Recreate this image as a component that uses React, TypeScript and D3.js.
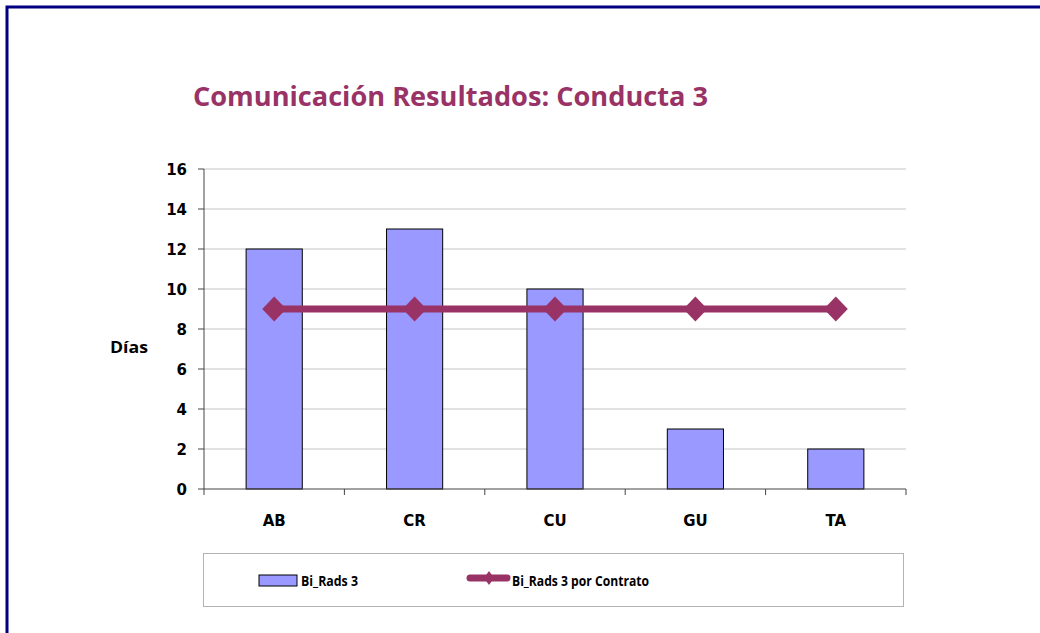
import { scaleBand, scaleLinear } from 'd3';

const categories = ['AB', 'CR', 'CU', 'GU', 'TA'];
const biRads = [12, 13, 10, 3, 2];
const contrato = [9, 9, 9, 9, 9];
const yTicks = [0, 2, 4, 6, 8, 10, 12, 14, 16];
const seriesNames = ['Bi_Rads 3', 'Bi_Rads 3 por Contrato'];

const LINE_COLOR = '#993366';
const BAR_COLOR = '#9999FF';

function App(): JSX.Element {
  const left = 204;
  const right = 906;
  const top = 169;
  const bottom = 489;

  const x = scaleBand<string>().domain(categories).range([left, right]).padding(0);
  const y = scaleLinear().domain([0, 16]).range([bottom, top]);
  const barW = x.bandwidth() * 0.4;
  const cx = (c: string) => (x(c) ?? 0) + x.bandwidth() / 2;

  const diamond = (px: number, py: number, r: number, ry = r) =>
    `M${px - r},${py} L${px},${py - ry} L${px + r},${py} L${px},${py + ry} Z`;

  const boundaries = [...categories.map((c) => x(c) ?? 0), right];

  return (
    <svg
      width={1040}
      height={633}
      style={{ position: 'absolute', left: 0, top: 0, background: '#fff' }}
    >
      {/* outer frame */}
      <rect x={7} y={7} width={1100} height={700} fill="#fff" stroke="#000080" strokeWidth={3} />

      <text
        x={193}
        y={106}
        fontFamily="'Open Sans', sans-serif"
        fontWeight="bold"
        fontSize={26}
        fill={LINE_COLOR}
        textLength={515}
        lengthAdjust="spacingAndGlyphs"
      >
        Comunicación Resultados: Conducta 3
      </text>

      {/* gridlines */}
      {yTicks.filter((t) => t > 0).map((t) => (
        <line key={`g${t}`} x1={left} x2={right} y1={y(t)} y2={y(t)} stroke="#d9d9d9" strokeWidth={1.5} />
      ))}

      {/* bars */}
      {categories.map((c, i) => (
        <rect
          key={`b${c}`}
          x={cx(c) - barW / 2}
          y={y(biRads[i])}
          width={barW}
          height={y(0) - y(biRads[i])}
          fill={BAR_COLOR}
          stroke="#000"
          strokeWidth={1}
        />
      ))}

      {/* y axis */}
      <line x1={left} x2={left} y1={top} y2={bottom} stroke="#444" strokeWidth={1} />
      {yTicks.map((t) => (
        <g key={`t${t}`}>
          <line x1={left - 6} x2={left} y1={y(t)} y2={y(t)} stroke="#444" strokeWidth={1} />
          <text
            x={187}
            y={y(t) + 5.5}
            textAnchor="end"
            fontFamily="'DejaVu Sans', sans-serif"
            fontWeight="bold"
            fontSize={15}
            fill="#000"
          >
            {t}
          </text>
        </g>
      ))}

      {/* x axis */}
      <line x1={left} x2={right} y1={bottom} y2={bottom} stroke="#444" strokeWidth={1} />
      {boundaries.map((b, i) => (
        <line key={`xt${i}`} x1={b} x2={b} y1={bottom} y2={bottom + 6} stroke="#444" strokeWidth={1} />
      ))}
      {categories.map((c) => (
        <text
          key={`l${c}`}
          x={cx(c)}
          y={526}
          textAnchor="middle"
          fontFamily="'DejaVu Sans', sans-serif"
          fontWeight="bold"
          fontSize={15}
          fill="#000"
        >
          {c}
        </text>
      ))}

      <text
        x={110}
        y={353}
        fontFamily="'Open Sans', sans-serif"
        fontWeight="bold"
        fontSize={16}
        fill="#000"
        textLength={38}
        lengthAdjust="spacingAndGlyphs"
      >
        Días
      </text>

      {/* line series */}
      <path
        d={categories.map((c, i) => `${i === 0 ? 'M' : 'L'}${cx(c)},${y(contrato[i])}`).join(' ')}
        fill="none"
        stroke={LINE_COLOR}
        strokeWidth={7}
      />
      {categories.map((c, i) => (
        <path key={`d${c}`} d={diamond(cx(c), y(contrato[i]), 12, 12.5)} fill={LINE_COLOR} />
      ))}

      {/* legend */}
      <rect x={203.5} y={553.5} width={700} height={53} fill="#fff" stroke="#b3b3b3" strokeWidth={1} />
      <rect x={259} y={575} width={38} height={11} fill={BAR_COLOR} stroke="#000" strokeWidth={1} />
      <text
        x={301}
        y={586}
        fontFamily="'Open Sans', sans-serif"
        fontWeight="bold"
        fontSize={15}
        fill="#000"
        textLength={57}
        lengthAdjust="spacingAndGlyphs"
      >
        {seriesNames[0]}
      </text>
      <line x1={470} x2={507} y1={578} y2={578} stroke={LINE_COLOR} strokeWidth={7} strokeLinecap="round" />
      <path d={diamond(489, 578, 5, 7)} fill={LINE_COLOR} />
      <text
        x={512}
        y={586}
        fontFamily="'Open Sans', sans-serif"
        fontWeight="bold"
        fontSize={15}
        fill="#000"
        textLength={137}
        lengthAdjust="spacingAndGlyphs"
      >
        {seriesNames[1]}
      </text>
    </svg>
  );
}

export default App;
